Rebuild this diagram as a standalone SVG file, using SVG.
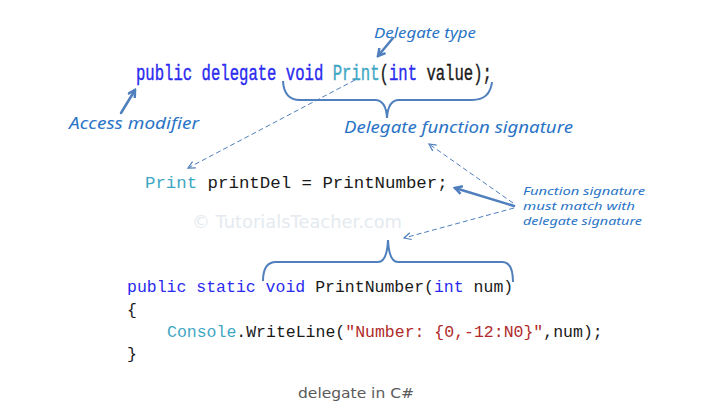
<svg xmlns="http://www.w3.org/2000/svg" width="701" height="412" viewBox="0 0 701 412">
<defs>
<style>
.code{font-family:"Liberation Mono","DejaVu Sans Mono",monospace;}
.kw{fill:#2a2af0;}
.ty{fill:#3fa7c4;}
.tx{fill:#1a1a1a;}
.st{fill:#b02a2a;}
.note{font-family:"Noto Sans","DejaVu Sans",sans-serif;font-style:italic;fill:#2a74c6;}
.solid{fill:none;stroke:#4f7fbc;stroke-width:2.5;stroke-linecap:round;}
.dash{fill:none;stroke:#4f7fbc;stroke-width:1;stroke-dasharray:5,3;}
.brace{fill:none;stroke:#4f7fbc;stroke-width:2;}
</style>
<marker id="ahs" markerWidth="10" markerHeight="10" refX="8" refY="5" orient="auto" markerUnits="userSpaceOnUse">
<path d="M1,1 L8,5 L1,9" fill="none" stroke="#4f7fbc" stroke-width="2.5"/>
</marker>
<marker id="ahd" markerWidth="10" markerHeight="10" refX="8" refY="5" orient="auto" markerUnits="userSpaceOnUse">
<path d="M1,1.5 L8,5 L1,8.5" fill="none" stroke="#4f7fbc" stroke-width="1.2"/>
</marker>
</defs>
<rect width="701" height="412" fill="#ffffff"/>

<text x="192" y="228" font-family="'DejaVu Sans',Verdana,sans-serif" font-size="18" fill="#e4eaf0" textLength="210" lengthAdjust="spacingAndGlyphs">© TutorialsTeacher.com</text>

<g id="decl">
<g transform="translate(136,80) scale(0.71,1)">
<text class="code" x="0" y="0" font-size="22" stroke-width="0.4"><tspan class="kw" stroke="#2a2af0">public delegate void</tspan><tspan class="tx"> </tspan><tspan class="ty" stroke="#3fa7c4">Print</tspan><tspan class="tx" stroke="#1a1a1a">(</tspan><tspan class="kw" stroke="#2a2af0">int</tspan><tspan class="tx" stroke="#1a1a1a"> value);</tspan></text>
</g>
</g>

<g id="instance">
<text class="code" x="145" y="188" font-size="17.4"><tspan class="ty">Print</tspan><tspan class="tx"> printDel = PrintNumber;</tspan></text>
</g>

<g id="method">
<text class="code" x="127" y="292" font-size="16.5"><tspan class="kw">public static void</tspan><tspan class="tx"> PrintNumber(</tspan><tspan class="kw">int</tspan><tspan class="tx"> num)</tspan></text>
<text class="code tx" x="127" y="315" font-size="16.5">{</text>
<text class="code" x="167" y="337" font-size="16.5"><tspan class="ty">Console</tspan><tspan class="tx">.WriteLine(</tspan><tspan class="st">"Number: {0,-12:N0}"</tspan><tspan class="tx">,num);</tspan></text>
<text class="code tx" x="127" y="359" font-size="16.5">}</text>
</g>

<g id="label-delegate-type"><text class="note" x="374" y="38" font-size="15" textLength="102" lengthAdjust="spacingAndGlyphs">Delegate type</text></g>
<g id="label-access"><text class="note" x="69" y="129" font-size="16" textLength="130" lengthAdjust="spacingAndGlyphs">Access modifier</text></g>
<g id="label-signature"><text class="note" x="344" y="133" font-size="16" textLength="229" lengthAdjust="spacingAndGlyphs">Delegate function signature</text></g>
<g id="label-match">
<text class="note" x="523" y="195" font-size="11" textLength="122" lengthAdjust="spacingAndGlyphs">Function signature</text>
<text class="note" x="523" y="210" font-size="11" textLength="112" lengthAdjust="spacingAndGlyphs">must match with</text>
<text class="note" x="523" y="225" font-size="11" textLength="119" lengthAdjust="spacingAndGlyphs">delegate signature</text>
</g>
<text x="298" y="398" font-family="'DejaVu Sans',Verdana,sans-serif" font-size="14" fill="#5a5a5a" textLength="116" lengthAdjust="spacingAndGlyphs">delegate in C#</text>

<g id="connectors">
<path class="brace" d="M283,81 Q284,100 300,100 L375,100 Q386,100 387,118 Q388,100 399,100 L472,100 Q490,100 492,82"/>
<path class="brace" d="M263,281 Q263,262 276,262 L378,262 Q387,262 388,240 Q389,262 398,262 L502,262 Q513,262 513,282"/>
<line class="solid" x1="121" y1="113" x2="135" y2="90" marker-end="url(#ahs)"/>
<line class="solid" x1="393" y1="38" x2="378" y2="56" marker-end="url(#ahs)"/>
<line class="solid" x1="514" y1="206" x2="455" y2="188" marker-end="url(#ahs)"/>
<line class="dash" x1="355" y1="80" x2="188" y2="168" marker-end="url(#ahd)"/>
<line class="dash" x1="513" y1="203" x2="429" y2="144" marker-end="url(#ahd)"/>
<line class="dash" x1="514" y1="208" x2="404" y2="238" marker-end="url(#ahd)"/>
</g>
</svg>
